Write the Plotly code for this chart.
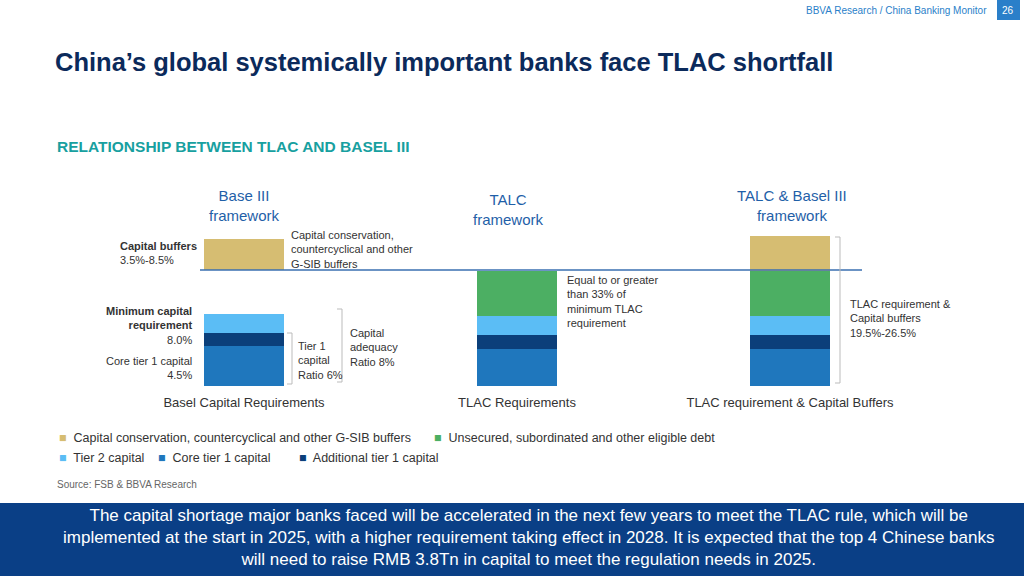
import plotly.graph_objects as go

categories = ["Basel Capital Requirements", "TLAC Requirements", "TLAC requirement & Capital Buffers"]
core_t1 = [4.5, 4.2, 4.2]
add_t1 = [1.5, 1.5, 1.5]
tier2 = [2.1, 2.2, 2.2]
gap = [4.9, 0, 0]
eligible_debt = [0, 5.0, 5.0]
buffers = [3.5, 0, 4.0]

C_BUF = "#D6BD72"; C_GREEN = "#4CAF63"; C_T2 = "#5BBDF5"; C_CORE = "#1F77BD"; C_AT1 = "#0B3F7A"

fig = go.Figure()
for vals, col in [(core_t1, C_CORE), (add_t1, C_AT1), (tier2, C_T2), (gap, "rgba(0,0,0,0)"),
                  (eligible_debt, C_GREEN), (buffers, C_BUF)]:
    fig.add_bar(x=categories, y=vals, marker=dict(color=col, line=dict(width=0)), width=0.29,
                showlegend=False, hoverinfo="skip")

W, H = 1024, 576
def px(x): return x / W
def py(y): return 1 - y / H

fig.update_layout(
    width=W, height=H, barmode="stack", margin=dict(l=0, r=0, t=0, b=0),
    plot_bgcolor="white", paper_bgcolor="white", font=dict(family="Liberation Sans", color="#333"),
    xaxis=dict(domain=[107.5 / W, 926.5 / W], range=[-0.5, 2.5], showgrid=False, ticks="",
               tickfont=dict(size=13, color="#333"), showline=False, ticklabelstandoff=7),
    yaxis=dict(domain=[py(386), py(220)], range=[0, 18.65], visible=False),
)

shapes = []
shapes.append(dict(type="line", xref="paper", yref="paper", x0=px(200), x1=px(862), y0=py(270), y1=py(270),
                   line=dict(color="#3A6FB0", width=1.5)))
def bracket(x, y0, y1, r=5):
    return dict(type="path", xref="paper", yref="paper",
                path=f"M {px(x-r)},{py(y0)} L {px(x)},{py(y0)} L {px(x)},{py(y1)} L {px(x-r)},{py(y1)}",
                line=dict(color="#BBBBBB", width=1))
shapes += [bracket(292, 333, 384), bracket(342, 309, 382), bracket(840, 237, 383)]
shapes.append(dict(type="rect", xref="paper", yref="paper", x0=0, x1=1, y0=0, y1=py(503),
                   fillcolor="#0A3F86", line=dict(width=0), layer="below"))
shapes.append(dict(type="rect", xref="paper", yref="paper", x0=px(997), x1=px(1020), y0=py(20), y1=py(0),
                   fillcolor="#2A7FC9", line=dict(width=0)))
fig.update_layout(shapes=shapes)

ann = []
def A(x, y, text, size=11, color="#333", xanchor="left", align="left", yanchor="middle"):
    ann.append(dict(x=px(x), y=py(y), xref="paper", yref="paper", text=text, showarrow=False,
                    font=dict(size=size, color=color), xanchor=xanchor, align=align, yanchor=yanchor))

A(989, 10, "BBVA Research / China Banking Monitor", 10, "#2A7FC9", xanchor="right")
A(1008, 10, "26", 10, "white", xanchor="center")
A(53, 62, "<b>China’s global systemically important banks face TLAC shortfall</b>", 25.5, "#0B2A5B")
A(55, 147, "<b>RELATIONSHIP BETWEEN TLAC AND BASEL III</b>", 15.5, "#17A0A0")
A(244, 205, "Base III<br>framework", 15, "#1F5FA8", xanchor="center", align="center")
A(508, 209, "TALC<br>framework", 15, "#1F5FA8", xanchor="center", align="center")
A(792, 206, "TALC & Basel III<br>framework", 15, "#1F5FA8", xanchor="center", align="center")
A(118, 253, "<b>Capital buffers</b><br>3.5%-8.5%", 11)
A(195, 325, "<b>Minimum capital<br>requirement</b><br>8.0%", 11, xanchor="right", align="right")
A(194, 368, "Core tier 1 capital<br>4.5%", 11, xanchor="right", align="right")
A(289, 249, "Capital conservation,<br>countercyclical and other<br>G-SIB buffers", 11)
A(296, 360, "Tier 1<br>capital<br>Ratio 6%", 11)
A(348, 347, "Capital<br>adequacy<br>Ratio 8%", 11)
A(565, 301, "Equal to or greater<br>than 33% of<br>minimum TLAC<br>requirement", 11)
A(848, 318, "TLAC requirement &<br>Capital buffers<br>19.5%-26.5%", 11)

def L(x, y, color, label):
    A(x, y, f"<span style='color:{color}'>■</span>  {label}", 12.5)
L(57, 438, C_BUF, "Capital conservation, countercyclical and other G-SIB buffers")
L(432, 438, C_GREEN, "Unsecured, subordinated and other eligible debt")
L(57, 458, C_T2, "Tier 2 capital")
L(156, 458, C_CORE, "Core tier 1 capital")
L(297, 458, C_AT1, "Additional tier 1 capital")
A(55, 484, "Source: FSB & BBVA Research", 10, "#666")
A(528, 537, "The capital shortage major banks faced will be accelerated in the next few years to meet the TLAC rule, which will be<br>"
            "implemented at the start in 2025, with a higher requirement taking effect in 2028. It is expected that the top 4 Chinese banks<br>"
            "will need to raise RMB 3.8Tn in capital to meet the regulation needs in 2025.", 17, "white",
  xanchor="center", align="center")
fig.update_layout(annotations=ann)
fig.write_html("out.html", config={"displayModeBar": False},
               post_script="document.body.style.margin='0';document.body.style.overflow='hidden';")
